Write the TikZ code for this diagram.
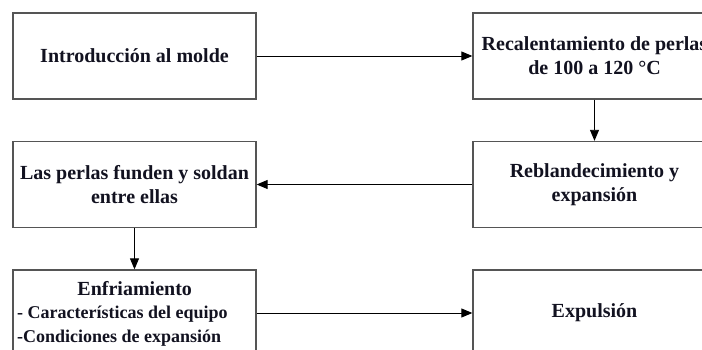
\documentclass[tikz,border=0pt]{standalone}
\usepackage{fontspec}
\setmainfont{Liberation Serif}
\usetikzlibrary{arrows.meta}
\definecolor{textc}{RGB}{18,18,32}
\definecolor{framec}{RGB}{85,85,85}
\tikzset{
  stagebox/.style={draw=framec, line width=1.3pt, fill=white, rectangle,
    minimum width=243pt, minimum height=86pt, inner sep=0pt,
    align=center, text=textc, font=\fontsize{20}{24}\selectfont\bfseries},
  flow/.style={draw=black, line width=0.9pt, -{Triangle[length=11pt,width=9pt]}},
  boxtext/.style={text=textc, font=\fontsize{18}{23.5}\selectfont\bfseries,
    inner sep=0pt, align=left}
}
\begin{document}
\begin{tikzpicture}[x=1pt,y=-1pt]
  \useasboundingbox (0,0) rectangle (702,350);
  \clip (0,0) rectangle (702,350);
  % process stages
  \node[stagebox] (intro) at (134.5,56) {Introducción al molde};
  \node[stagebox] (recal) at (594.5,56) {Recalentamiento de perlas\\de 100 a 120 °C};
  \node[stagebox] (rebl) at (594.5,184.5) {Reblandecimiento y\\expansión};
  \node[stagebox] (funden) at (134.5,184.5) {Las perlas funden y soldan\\entre ellas};
  \node[stagebox] (enfr) at (134.5,313) {};
  % cooling stage: heading plus two remarks, set flush left
  \node[boxtext, anchor=base west] (enfrtxt) at (17,342)
    {\makebox[235pt]{\fontsize{20}{23.5}\selectfont Enfriamiento}\\- Características del equipo\\-Condiciones de expansión};
  \node[stagebox] (expul) at (594.5,313) {Expulsión};
  % connectors
  \draw[flow] (intro.east) -- (recal.west);
  \draw[flow] (recal.south) -- (rebl.north);
  \draw[flow] (rebl.west) -- (funden.east);
  \draw[flow] (funden.south) -- (enfr.north);
  \draw[flow] (enfr.east) -- (expul.west);
\end{tikzpicture}
\end{document}
